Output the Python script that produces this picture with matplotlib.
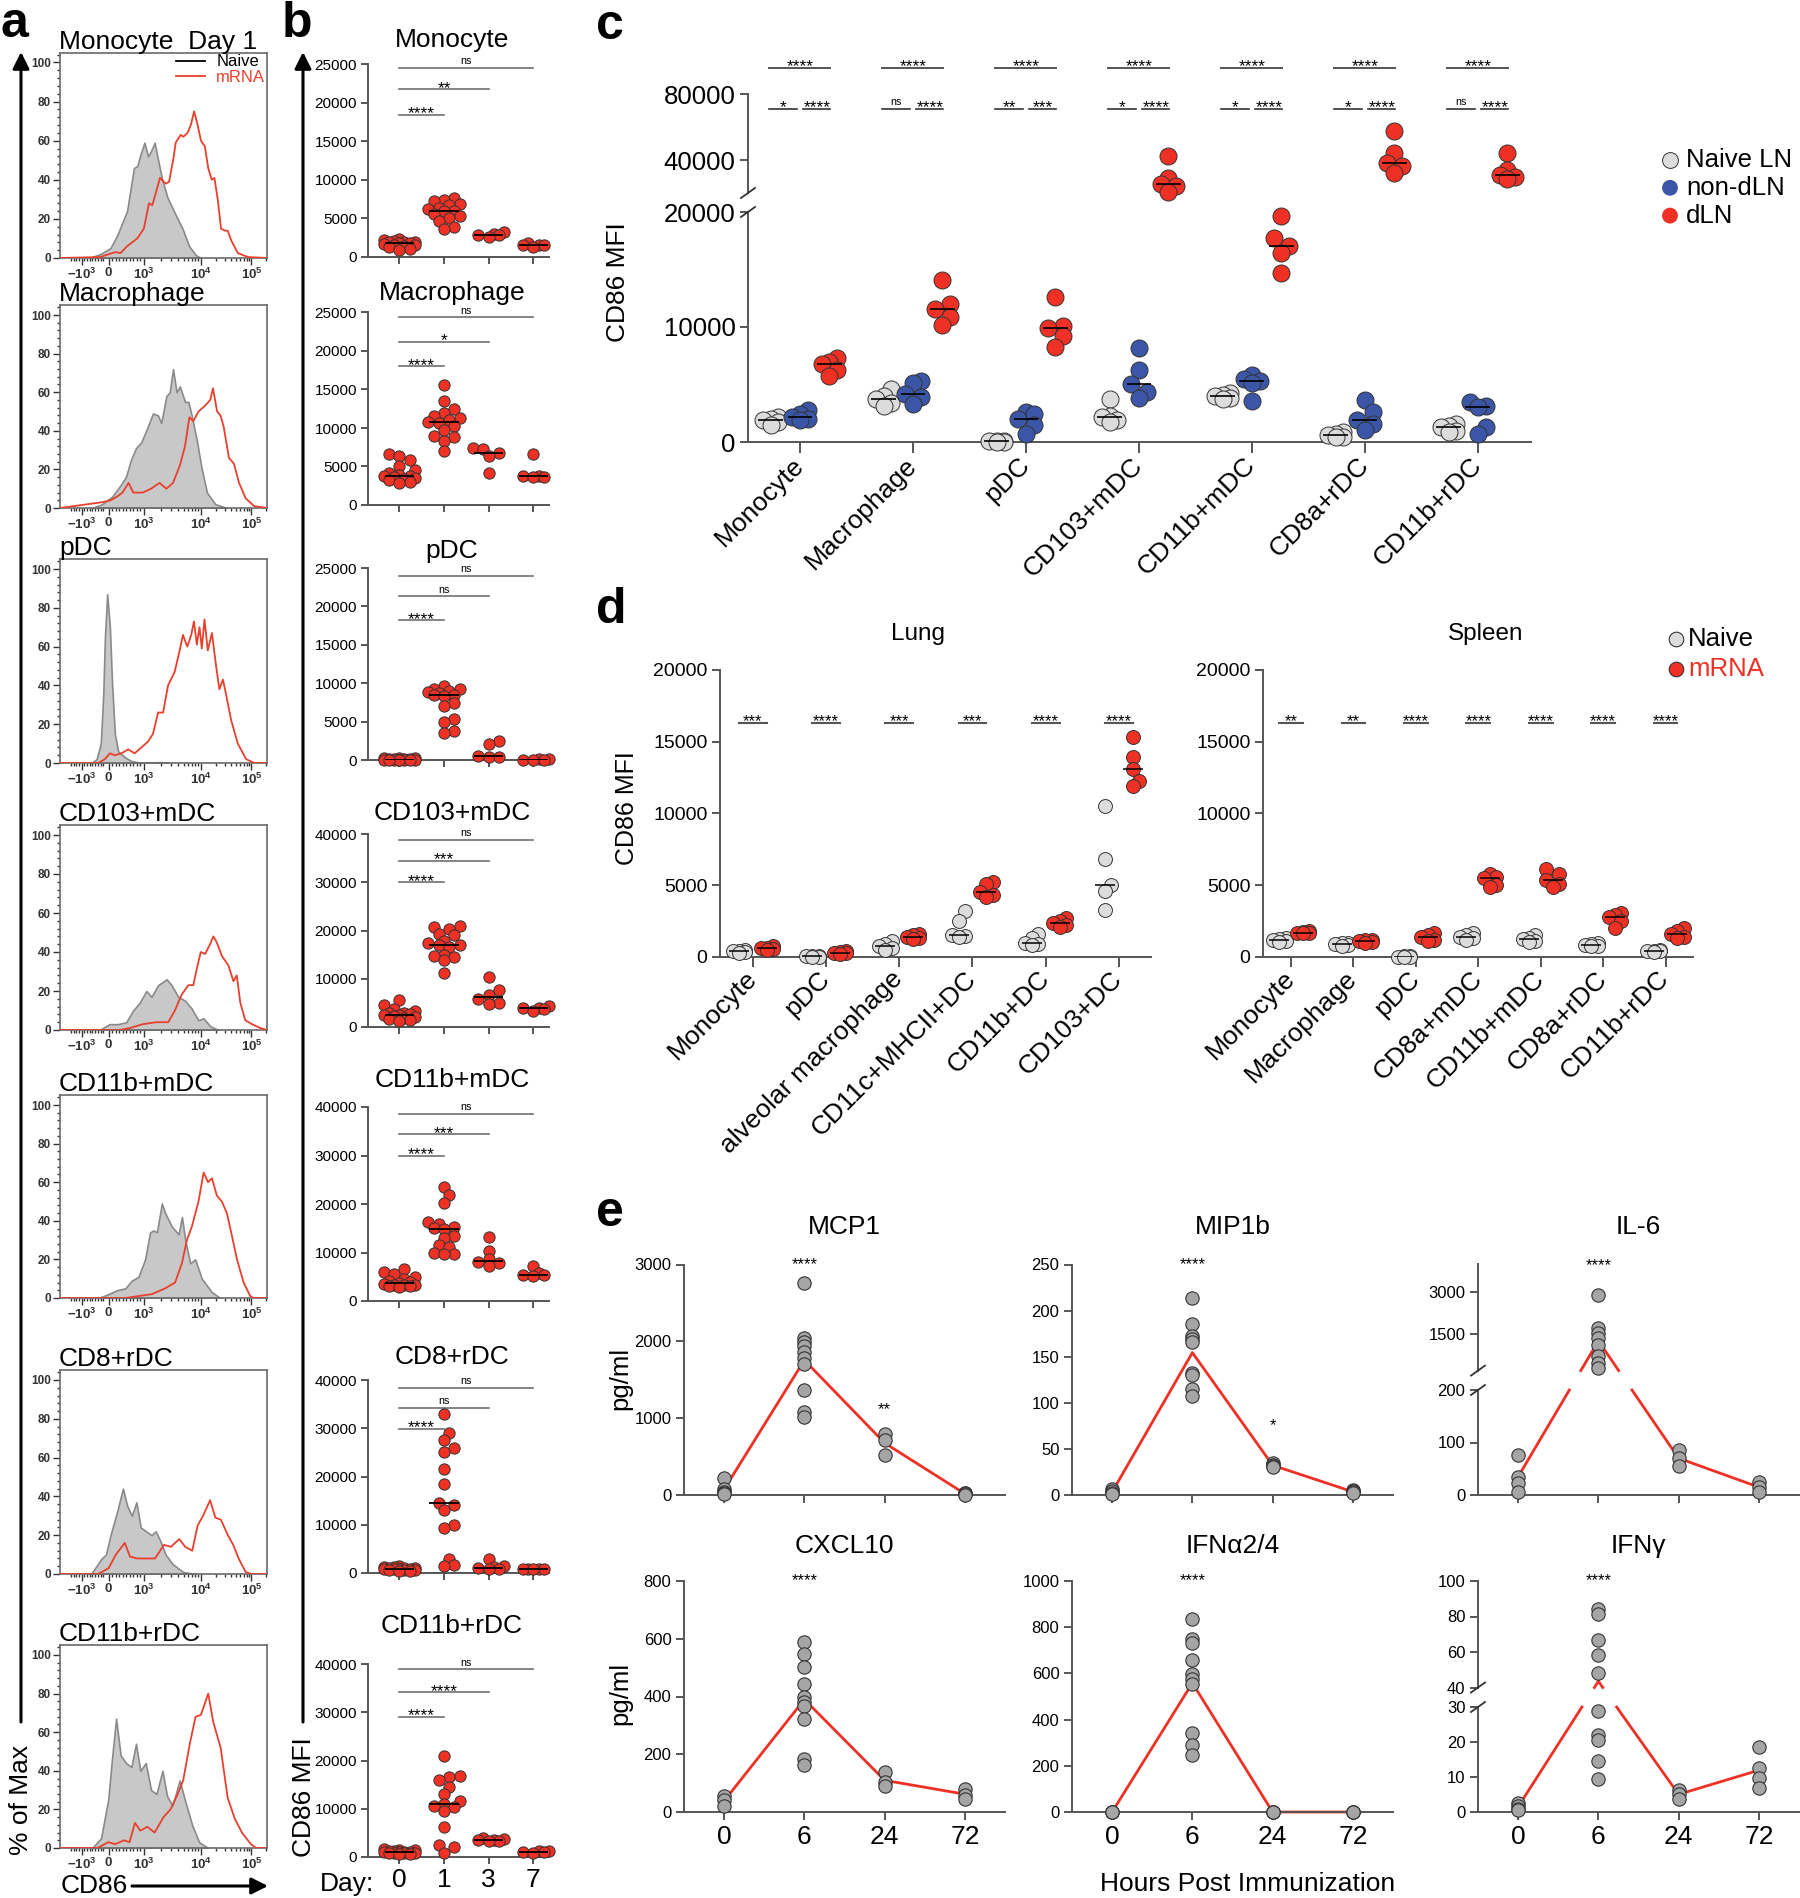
import numpy as np
import matplotlib
matplotlib.use('Agg')
import matplotlib.pyplot as plt
from matplotlib.ticker import AutoMinorLocator
from matplotlib.lines import Line2D

plt.rcParams['font.family'] = ['Liberation Sans', 'DejaVu Sans']
plt.rcParams['mathtext.fontset'] = 'custom'
plt.rcParams['mathtext.rm'] = 'Liberation Sans'
plt.rcParams['mathtext.it'] = 'Liberation Sans'
plt.rcParams['mathtext.bf'] = 'Liberation Sans:bold'

RED = '#EE3124'
BLUE = '#3B56A6'
NAIVE_GRAY = '#DCDCDC'
E_GRAY = '#A5A5A5'
EDGE = '#333333'
AXC = '#555555'

# ---------------- panel a: CD86 histograms (x = display channel 0-100, y = % of max)
hist_titles = ['Monocyte  Day 1', 'Macrophage', 'pDC', 'CD103+mDC', 'CD11b+mDC', 'CD8+rDC', 'CD11b+rDC']
hist_ticks = [10.5, 23.5, 40.5, 68, 92.5]
hist_ticklabels = [r'$\mathbf{-10^3}$', r'$\mathbf{0}$', r'$\mathbf{10^3}$', r'$\mathbf{10^4}$', r'$\mathbf{10^5}$']

mono_naive_x = [14, 19.5, 24.3, 27.6, 32.4, 35.7, 37.3, 38.9, 40.8, 42.5, 44.1, 45.7, 47.8, 49.4, 51.9, 55.9, 59.2, 62.4, 65.6, 68.1]
mono_naive_y = [0, 2, 5, 11.5, 24, 46, 47, 53, 59, 52, 55, 59, 48, 40, 31, 22, 15, 6, 1.5, 0]
mono_mrna_x = [0, 19.4, 26.7, 29.2, 32.4, 37.3, 40.5, 43, 44.6, 46.2, 48.3, 51.1, 52.7, 54.8, 55.9, 58.3, 59.6, 61.6, 63.2, 64.8,
               66.5, 68.1, 70, 71.6, 73.3, 74.6, 76.2, 77.8, 79.7, 81, 82.7, 85.9, 90.8, 100]
mono_mrna_y = [0, 0.5, 3, 2.5, 6, 10, 15, 28, 27, 33, 41, 38, 39, 51, 59, 63, 62, 64, 68, 75,
               68, 60, 57, 46, 40, 41, 30, 15, 14, 14, 9, 2.5, 0.5, 0]

macro_naive_x = [15.5, 20.4, 25.3, 29.4, 31.8, 34.3, 36.7, 39.2, 41.6, 44.9, 47.3, 48.9, 51.4, 53, 54.6, 56.3, 57.9, 60.4,
                 62, 63.6, 66.1, 68.5, 71, 75, 80.8]
macro_naive_y = [0, 2, 6, 12, 16, 25, 31, 34, 40, 49, 48, 44, 58, 60, 72, 60, 63, 55, 55, 48, 35, 20, 8, 2, 0]
macro_mrna_x = [0, 20.4, 24.5, 27.7, 30.2, 33.1, 35.4, 40, 44, 48.1, 51.4, 54.6, 57.9, 60.4, 62.5, 64.4, 66.9, 70.1, 72.6,
                73.9, 75.9, 77.5, 79.1, 81.6, 84, 86.5, 89.7, 93.8, 100]
macro_mrna_y = [0, 3, 4, 6, 8, 13, 8, 8, 10, 13, 10, 13, 22, 32, 47, 45, 50, 53, 56, 62, 50, 48, 42, 26, 23, 13, 5, 1, 0]

pdc_naive_x = [15.2, 17.7, 19.7, 20.9, 21.7, 22.8, 24.1, 25.2, 26.5, 28.1, 31.3, 34.5, 39.3, 49, 52.2]
pdc_naive_y = [0, 2, 10, 35, 65, 87, 70, 40, 15, 6, 3, 1, 0, 0.5, 0]
pdc_mrna_x = [0, 18.5, 21.7, 24.1, 26.5, 29.7, 32.9, 36.1, 39.3, 42.5, 44.9, 47.4, 49.8, 52.2, 55.4, 57.8, 59.4, 61.5,
              63.4, 64.7, 66.1, 67.4, 68.5, 69.8, 71.4, 73.4, 75.4, 77, 78.7, 80.3, 82.7, 85.9, 89.9, 93.9, 100]
pdc_mrna_y = [0, 0, 2, 5, 4, 5, 7, 5, 8, 11, 15, 26, 26, 40, 47, 58, 66, 60, 66, 73, 61, 70, 59, 74, 58, 67, 50, 38,
              43, 35, 22, 10, 2, 0, 0]

cd103_naive_x = [19.1, 23.9, 28, 32, 35.3, 38.5, 41.7, 44.2, 47.4, 51.5, 53.9, 57.1, 60.4, 63.6, 66.8, 69.3, 72.5, 76.5]
cd103_naive_y = [0, 3, 3, 4, 10, 14, 20, 17, 23, 26, 23, 17, 15, 11, 5, 6, 2, 0]
cd103_mrna_x = [0, 28.8, 33.7, 40.1, 46.6, 52.3, 55.5, 58.7, 62, 64.4, 66, 68, 70.1, 72.5, 74.1, 75.7, 78.2, 81.4, 83.8,
                85.4, 87.1, 89.5, 92.7, 96.8, 100]
cd103_mrna_y = [0, 0, 1, 3, 4, 4, 10, 18, 23, 23, 31, 40, 39, 44, 48, 45, 38, 33, 25, 28, 14, 5, 3, 1, 0]

cd11bm_naive_x = [18.5, 23.4, 27.4, 31.5, 34.7, 37.9, 41.1, 43.5, 45.2, 46.8, 49.2, 50.8, 54, 57.3, 58.9, 60.5, 62.9,
                  65.3, 68.5, 73.4, 77.4]
cd11bm_naive_y = [0, 2, 4, 5, 9, 11, 20, 34, 35, 34, 49, 44, 37, 33, 42, 30, 18, 20, 10, 3, 0]
cd11bm_mrna_x = [0, 31.5, 37.9, 44.4, 50.8, 55.6, 58.9, 61.3, 63.7, 66.9, 69.4, 71.5, 73.4, 75.8, 78.2, 80.6, 83.1,
                 85.5, 88.7, 91.9, 93.5, 100]
cd11bm_mrna_y = [0, 0, 1, 2, 5, 8, 18, 30, 37, 50, 65, 60, 62, 53, 50, 44, 32, 20, 8, 1, 0, 0]

cd8_naive_x = [15, 20.1, 22.2, 24.4, 27.8, 30.4, 32.5, 34.7, 36.9, 39, 41.6, 44.2, 46.2, 48.5, 51, 54.5, 59.6, 65.6]
cd8_naive_y = [0, 8, 10, 20, 33, 44, 35, 30, 37, 24, 22, 20, 22, 17, 10, 5, 1, 0]
cd8_mrna_x = [0, 18.4, 23.5, 27, 31.3, 33.8, 37.3, 40.7, 45.9, 50.2, 53.6, 57.6, 60.5, 63.9, 66.5, 69.1, 72.5, 75.1,
              77.7, 81.1, 83.7, 86.3, 89.7, 92.5, 100]
cd8_mrna_y = [0, 0, 3, 10, 16, 9, 8, 8, 8, 15, 14, 18, 14, 12, 25, 30, 38, 29, 28, 20, 15, 8, 1, 0, 0]

cd11br_naive_x = [15.5, 19.8, 23.3, 25, 27.1, 29.3, 31.9, 34.5, 36.7, 38.8, 41.4, 44, 46.6, 49.5, 51.7, 54.3, 57.8,
                  60.3, 63.8, 67.2, 71.6]
cd11br_naive_y = [0, 5, 25, 45, 67, 48, 44, 42, 54, 40, 44, 30, 28, 40, 27, 22, 35, 25, 12, 3, 0]
cd11br_mrna_x = [0, 18.1, 23.3, 26.7, 31, 33.6, 36.2, 38.8, 42.2, 45.7, 50, 53.4, 56.9, 59.5, 62.9, 65.5, 68.1, 71.6,
                 74.1, 77.6, 81, 84.5, 87.9, 92.2, 94.8, 100]
cd11br_mrna_y = [0, 0, 3, 2, 4, 3, 13, 9, 11, 8, 16, 20, 28, 35, 55, 68, 69, 80, 65, 52, 26, 15, 8, 2, 0, 0]

# ---------------- panel b: CD86 MFI over days (mRNA)
b_titles = ['Monocyte', 'Macrophage', 'pDC', 'CD103+mDC', 'CD11b+mDC', 'CD8+rDC', 'CD11b+rDC']
b_days = ['0', '1', '3', '7']
b_mono = [[2300, 2200, 2100, 2000, 1900, 1900, 1800, 1800, 1700, 1600, 1500, 1400, 1300, 1100, 900],
          [7600, 7400, 7200, 6900, 6700, 6400, 6200, 6000, 5900, 5600, 5300, 5100, 4600, 3900, 3600],
          [3200, 3000, 2900, 2800, 2600],
          [1800, 1600, 1500, 1500, 1300]]
b_macro = [[6600, 6300, 5900, 5100, 4500, 4200, 3900, 3800, 3800, 3700, 3500, 3400, 3200, 3000, 2900],
           [15600, 13500, 12500, 12000, 11500, 11300, 11000, 10800, 10600, 10300, 9700, 9000, 8800, 8300, 7000],
           [7400, 7300, 6800, 6400, 4200],
           [6600, 3800, 3800, 3700, 3700]]
b_pdc = [[300, 250, 200, 150, 100, 100, 80, 50, 50, 30, 20, 10, 0, 0, 0],
         [9600, 9300, 9200, 9000, 8800, 8700, 8500, 8400, 8300, 7400, 7000, 5300, 5000, 3800, 3500],
         [2500, 2100, 500, 400, 400],
         [100, 80, 50, 30, 20]]
b_cd103 = [[5500, 4500, 3800, 3400, 3000, 2800, 2600, 2500, 2400, 2200, 2000, 1800, 1600, 1400, 1200],
           [21000, 20800, 20400, 19200, 19000, 17800, 17500, 17000, 16900, 16500, 15000, 14800, 14500, 13800, 11100],
           [10400, 7600, 6700, 5800, 5000, 4800],
           [4300, 4000, 3900, 3800, 3300]]
b_cd11bm = [[6500, 6000, 5500, 5000, 4500, 4200, 4000, 3700, 3500, 3400, 3300, 3200, 3100, 3000, 2800],
            [23500, 21800, 20200, 16200, 15800, 15300, 15000, 14900, 13500, 13000, 11500, 11200, 10000, 9700, 9600],
            [13200, 10400, 8600, 8100, 7900, 7200],
            [7300, 5800, 5400, 5300, 5200]]
b_cd8 = [[1400, 1300, 1200, 1100, 1000, 1000, 900, 900, 800, 800, 700, 700, 600, 500, 400],
         [33000, 29000, 27500, 26000, 25000, 21500, 18500, 14500, 14000, 13000, 10000, 9300, 3000, 1600, 1500],
         [2800, 1500, 1200, 1000, 900, 800],
         [900, 850, 800, 800, 750]]
b_cd11br = [[1700, 1500, 1400, 1300, 1200, 1100, 1100, 1000, 1000, 900, 900, 800, 800, 700, 600],
            [21000, 16800, 16500, 15900, 14600, 13000, 11600, 11000, 10500, 10300, 9500, 6300, 2500, 2000, 900],
            [3900, 3800, 3600, 3500, 3400, 3300],
            [1300, 1200, 1100, 1000, 900]]
b_ymax = [25000, 25000, 25000, 40000, 40000, 40000, 40000]
b_sig_labels = [['****', '**', 'ns'], ['****', '*', 'ns'], ['****', 'ns', 'ns'], ['****', '***', 'ns'],
                ['****', '***', 'ns'], ['****', 'ns', 'ns'], ['****', '****', 'ns']]
b_sig_levels = [[18400, 21700, 24500], [18000, 21200, 24400], [18200, 21350, 24000], [30000, 34500, 38800],
                [30000, 34400, 38600], [29900, 34300, 38400], [29000, 34100, 38900]]

# ---------------- panel c: lymph nodes
c_cells = ['Monocyte', 'Macrophage', 'pDC', 'CD103+mDC', 'CD11b+mDC', 'CD8a+rDC', 'CD11b+rDC']
c_naive = [[2200, 2000, 1870, 1700, 1500], [4600, 4000, 3740, 3400, 3100], [120, 80, 50, 20, 0],
           [3700, 2300, 2150, 1900, 1700], [4300, 4100, 4020, 3800, 3700], [900, 700, 570, 450, 400],
           [1600, 1400, 1290, 1000, 900]]
c_nondln = [[2800, 2400, 2200, 2000, 1900], [5300, 5170, 4170, 3880, 3300], [2590, 2440, 2010, 1440, 720],
            [8190, 6240, 5030, 4310, 3820], [5800, 5500, 5320, 5100, 3600], [3680, 2590, 1870, 1580, 1060],
            [3450, 3160, 3020, 1290, 720]]
c_dln = [[7300, 7000, 6750, 6300, 5700], [14080, 11980, 11580, 10830, 10200], [12640, 10060, 9910, 9200, 8250],
         [42400, 29000, 25400, 24000, 20600], [19680, 17760, 17010, 16440, 14710],
         [57800, 44000, 38000, 36400, 32400], [44400, 34000, 31000, 30000, 28400]]
c_sig_all = ['****'] * 7
c_sig_left = ['*', 'ns', '**', '*', '*', '*', 'ns']
c_sig_right = ['****', '****', '***', '****', '****', '****', '****']
c_legend = ['Naive LN', 'non-dLN', 'dLN']

# ---------------- panel d: lung and spleen
lung_cells = ['Monocyte', 'pDC', 'alveolar macrophage', 'CD11c+MHCII+DC', 'CD11b+DC', 'CD103+DC']
lung_naive = [[500, 450, 400, 350, 300], [100, 80, 50, 30, 0], [1100, 900, 800, 600, 500],
              [3200, 2500, 1500, 1450, 1400], [1600, 1350, 1000, 900, 850], [10500, 6800, 5000, 4600, 3300]]
lung_mrna = [[750, 650, 600, 550, 500], [400, 350, 300, 250, 200], [1600, 1500, 1400, 1300, 1250],
             [5200, 5100, 4500, 4300, 4200], [2700, 2500, 2350, 2200, 2100], [15350, 13950, 13100, 12250, 11900]]
lung_sig = ['***', '****', '***', '***', '****', '****']
spleen_cells = ['Monocyte', 'Macrophage', 'pDC', 'CD8a+mDC', 'CD11b+mDC', 'CD8a+rDC', 'CD11b+rDC']
spleen_naive = [[1300, 1250, 1200, 1100, 1050], [1000, 950, 900, 850, 800], [80, 50, 30, 20, 0],
                [1650, 1500, 1400, 1300, 1200], [1500, 1350, 1250, 1100, 1050], [1000, 900, 850, 800, 750],
                [500, 450, 400, 400, 350]]
spleen_mrna = [[1800, 1750, 1700, 1700, 1650], [1200, 1150, 1100, 1050, 1000], [1700, 1550, 1400, 1200, 1100],
               [5800, 5600, 5500, 5000, 4900], [6100, 5750, 5400, 5100, 4850], [3100, 2900, 2800, 2500, 2050],
               [2000, 1800, 1600, 1400, 1300]]
spleen_sig = ['**', '**', '****', '****', '****', '****', '****']

# ---------------- panel e: serum cytokines (pg/ml) at 0, 6, 24, 72 h
e_hours = ['0', '6', '24', '72']
mcp1 = [[220, 80, 40, 20, 10], [2760, 2040, 1990, 1940, 1860, 1780, 1710, 1370, 1080, 1020], [800, 710, 520],
        [30, 20, 10, 5]]
mip1b = [[6, 4, 2, 1], [214, 185, 172, 169, 166, 132, 130, 115, 107], [35, 33, 31, 30], [5, 4, 3, 2]]
il6 = [[77, 35, 22, 5], [2900, 1700, 1550, 1350, 1100, 700, 450, 300], [85, 70, 55], [25, 15, 5]]
cxcl10 = [[55, 40, 20], [588, 548, 501, 445, 397, 382, 366, 323, 185, 164], [137, 103, 89], [80, 60, 45]]
ifna = [[0, 0, 0], [837, 751, 732, 658, 596, 577, 553, 344, 290, 245], [0, 0, 0], [0, 0, 0]]
ifng = [[2.6, 1.8, 1.0, 0.5], [84.5, 81.5, 67, 58.5, 48, 29, 22, 20.5, 14.5, 9.5], [6.3, 5.2, 3.6],
        [18.6, 12.6, 9.8, 6.8]]

W, H = 1800, 1898
fig = plt.figure(figsize=(W / 100, H / 100), dpi=100)


def add_ax(left, top, right, bottom):
    ax = fig.add_axes([left / W, 1 - bottom / H, (right - left) / W, (bottom - top) / H])
    ax.set_facecolor('none')
    return ax


def style(ax, fs, left_only=False):
    for s in ['top', 'right']:
        ax.spines[s].set_visible(False)
    for s in ['left', 'bottom']:
        ax.spines[s].set_linewidth(1.4)
        ax.spines[s].set_color(AXC)
    ax.tick_params(width=1.4, length=6, color=AXC, labelsize=fs, pad=3)
    if left_only:
        ax.spines['bottom'].set_visible(False)
        ax.tick_params(axis='x', which='both', bottom=False, labelbottom=False)


def px_x(ax):
    x0, x1 = ax.get_xlim()
    return ax.bbox.width / (x1 - x0)


def swarm(vals, ypix, diam, cap):
    cands = [0.0]
    stepw = diam * 0.45
    for k in range(1, int(cap / stepw) + 1):
        cands += [k * stepw, -k * stepw]
    offs = [0.0] * len(vals)
    placed = []
    for i in np.argsort(vals, kind='stable'):
        y = ypix(vals[i])
        best, bestd = 0.0, -1.0
        for c in cands:
            d = min([np.hypot(c - px, y - py) for px, py in placed], default=1e9)
            if d >= diam * 0.72:
                best = c
                break
            if d > bestd:
                bestd, best = d, c
        offs[i] = best
        placed.append((best, y))
    return np.array(offs)


def sig_text(ax, x, y, label, fs, **kw):
    if label == 'ns':
        ax.annotate(label, (x, y), xytext=(0, 2.5), textcoords='offset points', ha='center', va='baseline',
                    fontsize=fs * 0.62, annotation_clip=False, **kw)
    else:
        ax.annotate(label, (x, y), xytext=(0, -2.5), textcoords='offset points', ha='center', va='baseline',
                    fontsize=fs, annotation_clip=False, **kw)


def set_ticks(ax, ticks):
    ax.set_yticks(ticks, [str(t) for t in ticks])


# ================= panel a
hist_curves = [((mono_naive_x, mono_naive_y), (mono_mrna_x, mono_mrna_y)),
               ((macro_naive_x, macro_naive_y), (macro_mrna_x, macro_mrna_y)),
               ((pdc_naive_x, pdc_naive_y), (pdc_mrna_x, pdc_mrna_y)),
               ((cd103_naive_x, cd103_naive_y), (cd103_mrna_x, cd103_mrna_y)),
               ((cd11bm_naive_x, cd11bm_naive_y), (cd11bm_mrna_x, cd11bm_mrna_y)),
               ((cd8_naive_x, cd8_naive_y), (cd8_mrna_x, cd8_mrna_y)),
               ((cd11br_naive_x, cd11br_naive_y), (cd11br_mrna_x, cd11br_mrna_y))]
hist_rows = [(62.5, 258), (315, 508), (569, 763), (835, 1030), (1105, 1298), (1380, 1574), (1655, 1848)]
hist_minor = ([10.5 - 1.3 * m for m in range(1, 5)] + [10.5 + 1.3 * m for m in range(1, 9)]
              + [23.5 + 1.7 * m for m in range(1, 10)] + [40.5 + 27.5 * np.log10(m) for m in range(2, 10)]
              + [68 + 24.5 * np.log10(m) for m in range(2, 10)] + [99.5])
hist_title_pos = []
for r, (y100, y0) in enumerate(hist_rows):
    top = y100 - 0.05 * (y0 - y100)
    ax = add_ax(60, top, 267, y0)
    ax.set_xlim(0, 100)
    ax.set_ylim(0, 105)
    (nx, ny), (mx, my) = hist_curves[r]
    ax.fill_between(nx, ny, color='#C8C8C8', edgecolor='#8A8A8A', lw=1.2, zorder=2)
    ax.plot(mx, my, color='#E8402D', lw=1.3, zorder=3)
    for s in ax.spines.values():
        s.set_color('#6A6A6A')
        s.set_linewidth(1.2)
    ax.set_yticks([0, 20, 40, 60, 80, 100])
    ax.yaxis.set_minor_locator(AutoMinorLocator(5))
    ax.set_xticks(hist_ticks, hist_ticklabels)
    ax.set_xticks(hist_minor, minor=True)
    ax.tick_params(which='both', direction='out', color='#333', width=1)
    ax.tick_params(which='major', length=5, labelsize=8.5, labelcolor='#333', pad=1.5)
    ax.tick_params(axis='x', which='major', labelsize=9.5, pad=1)
    ax.tick_params(which='minor', length=2.5)
    for lab in ax.get_yticklabels():
        lab.set_fontweight('bold')
    if r == 0:
        hnd = [Line2D([], [], color='k', lw=1.3), Line2D([], [], color='#E8402D', lw=1.3)]
        ax.legend(hnd, ['Naive', 'mRNA'], labelcolor=['k', '#E8402D'], frameon=False, fontsize=12,
                  loc='upper right', borderaxespad=0.0, handlelength=1.7, handletextpad=0.7, labelspacing=0.05,
                  borderpad=0.1)
    hist_title_pos.append(top - 4)

# ================= panel b
b_data = [b_mono, b_macro, b_pdc, b_cd103, b_cd11bm, b_cd8, b_cd11br]
b_rows = [(64, 257), (312.5, 505), (568, 760), (834, 1027), (1107, 1301), (1380, 1573), (1664, 1857)]
b_title_y = [40, 293, 551, 813, 1080, 1357, 1626]
for r in range(7):
    top, bot = b_rows[r]
    ax = add_ax(368, top, 549, bot)
    ax.set_xlim(-0.7, 3.35)
    ax.set_ylim(0, b_ymax[r])
    style(ax, 11)
    ax.tick_params(length=5)
    stepv = 5000 if b_ymax[r] == 25000 else 10000
    set_ticks(ax, list(range(0, b_ymax[r] + 1, stepv)))
    ax.set_xticks(range(4))
    if r == 6:
        ax.set_xticklabels(b_days, fontsize=19)
    else:
        ax.set_xticklabels([])
    sx = px_x(ax)
    sy = ax.bbox.height / b_ymax[r]
    for i, vals in enumerate(b_data[r]):
        offs = swarm(vals, lambda v: v * sy, 11.5, 19)
        ax.scatter(i + offs / sx, vals, s=66, c=RED, edgecolors=EDGE, linewidths=0.7, zorder=3, clip_on=False)
        ax.hlines(np.median(vals), i - 0.33, i + 0.33, color='k', lw=1.3, zorder=4)
    for j, (lab, lev) in enumerate(zip(b_sig_labels[r], b_sig_levels[r])):
        ax.plot([0, j + 1], [lev, lev], color='#707070', lw=1.2, clip_on=False)
        sig_text(ax, (j + 1) / 2, lev, lab, 12.5)

# ================= panel c
axc_lo = add_ax(748, 212, 1531, 442)
axc_hi = add_ax(748, 94, 1531, 193)
for ax in (axc_lo, axc_hi):
    ax.set_xlim(-0.46, 6.47)
axc_lo.set_ylim(0, 20000)
axc_hi.set_ylim(20000, 80000)
style(axc_lo, 18.5)
style(axc_hi, 18.5, left_only=True)
set_ticks(axc_lo, [0, 10000, 20000])
set_ticks(axc_hi, [40000, 80000])
axc_lo.set_xticks(range(7))
axc_lo.set_xticklabels(c_cells, rotation=45, ha='right', va='center', rotation_mode='anchor', fontsize=19)
axc_lo.tick_params(axis='x', pad=6, length=8)


def c_axis(v):
    return axc_hi if v > 20000 else axc_lo


c_groups = [(c_naive, NAIVE_GRAY, -0.26), (c_nondln, BLUE, 0.0), (c_dln, RED, 0.26)]
sxc = px_x(axc_lo)
for data, col, dx in c_groups:
    for i, vals in enumerate(data):
        offs = swarm(vals, lambda v: c_axis(v).transData.transform((0, v))[1], 17, 9) / sxc
        for v, o in zip(vals, offs):
            c_axis(v).scatter(i + dx + o, v, s=150, c=col, edgecolors=EDGE, linewidths=0.7, zorder=3,
                              clip_on=False)
        med = np.median(vals)
        c_axis(med).hlines(med, i + dx - 0.11, i + dx + 0.11, color='k', lw=1.2, zorder=4)
for i in range(7):
    axc_hi.plot([i - 0.27, i + 0.27], [95760, 95760], color='#555', lw=1.4, clip_on=False)
    sig_text(axc_hi, i, 95760, c_sig_all[i], 12.5)
    axc_hi.plot([i - 0.27, i - 0.03], [71200, 71200], color='#333', lw=1.2, clip_on=False)
    axc_hi.plot([i + 0.03, i + 0.27], [71200, 71200], color='#333', lw=1.2, clip_on=False)
    sig_text(axc_hi, i - 0.15, 71200, c_sig_left[i], 12.5)
    sig_text(axc_hi, i + 0.15, 71200, c_sig_right[i], 12.5)


# ================= panel d
def d_panel(left, right, cells, naive, mrna, sig):
    ax = add_ax(left, 670, right, 957)
    n = len(cells)
    ax.set_xlim(-0.45, n - 1 + 0.44)
    ax.set_ylim(0, 20000)
    style(ax, 14)
    set_ticks(ax, [0, 5000, 10000, 15000, 20000])
    ax.set_xticks(range(n))
    ax.set_xticklabels(cells, rotation=45, ha='right', va='center', rotation_mode='anchor', fontsize=19)
    ax.tick_params(axis='x', pad=6, length=7)
    sx = px_x(ax)
    sy = ax.bbox.height / 20000
    hw = 10 / sx
    for data, col, dx in ((naive, NAIVE_GRAY, -0.19), (mrna, RED, 0.19)):
        for i, vals in enumerate(data):
            offs = swarm(vals, lambda v: v * sy, 14, 7) / sx
            ax.scatter(i + dx + offs, vals, s=100, c=col, edgecolors=EDGE, linewidths=0.7, zorder=3,
                       clip_on=False)
            ax.hlines(np.median(vals), i + dx - hw, i + dx + hw, color='k', lw=1.1, zorder=4)
    for i in range(n):
        ax.plot([i - 0.19, i + 0.19], [16300, 16300], color='#555', lw=1.5)
        sig_text(ax, i, 16300, sig[i], 12)
    return ax


ax_lung = d_panel(720, 1151, lung_cells, lung_naive, lung_mrna, lung_sig)
ax_spleen = d_panel(1263, 1693, spleen_cells, spleen_naive, spleen_mrna, spleen_sig)

# ================= panel e
e_cols = [684, 1072, 1478]
e_rows = [(1264.5, 1495), (1581, 1812)]
EW = 321


def e_common(ax, row, xlabels=True):
    ax.set_xlim(-0.5, 3.5)
    style(ax, 12)
    ax.set_xticks(range(4))
    if row == 1 and xlabels:
        ax.set_xticklabels(e_hours, fontsize=19)
    else:
        ax.set_xticklabels([])


def e_points(axes_for, data):
    for i, vals in enumerate(data):
        for v in vals:
            axes_for(v).scatter(i, v, s=92, c=E_GRAY, edgecolors=EDGE, linewidths=0.8, zorder=3, clip_on=False)


def e_simple(col, row, data, ymax, stepv, sigs):
    left = e_cols[col]
    top, bot = e_rows[row]
    ax = add_ax(left, top, left + EW, bot)
    e_common(ax, row)
    ax.set_ylim(0, ymax)
    set_ticks(ax, list(range(0, ymax + 1, stepv)))
    e_points(lambda v: ax, data)
    ax.plot(range(4), [np.mean(v) for v in data], color=RED, lw=2, zorder=2, clip_on=False)
    for xi, lab, yv in sigs:
        ax.text(xi, yv, lab, ha='center', va='center', fontsize=12)
    return ax


def e_broken(col, row, data, split, lo_lim, hi_lim, lo_ticks, hi_ticks, split_px, sigs):
    left = e_cols[col]
    top, bot = e_rows[row]
    lo_top, hi_bot = split_px
    ax_lo = add_ax(left, lo_top, left + EW, bot)
    ax_hi = add_ax(left, top, left + EW, hi_bot)
    e_common(ax_lo, row)
    ax_hi.set_xlim(-0.5, 3.5)
    style(ax_hi, 12, left_only=True)
    ax_lo.set_ylim(*lo_lim)
    ax_hi.set_ylim(*hi_lim)
    set_ticks(ax_lo, lo_ticks)
    set_ticks(ax_hi, hi_ticks)
    pick = lambda v: ax_lo if v <= split else ax_hi
    e_points(pick, data)
    means = [np.mean(v) for v in data]
    pts = [pick(m).transData.transform((i, m)) for i, m in enumerate(means)]
    for (x0, y0), (x1, y1) in zip(pts[:-1], pts[1:]):
        for a in (ax_lo, ax_hi):
            lo, hi = a.bbox.y0, a.bbox.y1
            if abs(y1 - y0) < 1e-9:
                if not (lo <= y0 <= hi):
                    continue
                t0, t1 = 0.0, 1.0
            else:
                ta, tb = (lo - y0) / (y1 - y0), (hi - y0) / (y1 - y0)
                t0, t1 = max(0.0, min(ta, tb)), min(1.0, max(ta, tb))
                if t0 >= t1:
                    continue
            seg = np.array([[x0 + t * (x1 - x0), y0 + t * (y1 - y0)] for t in (t0, t1)])
            d = a.transData.inverted().transform(seg)
            a.plot(d[:, 0], d[:, 1], color=RED, lw=2, zorder=2, clip_on=False)
    for xi, lab, yv in sigs:
        ax_hi.text(xi, yv, lab, ha='center', va='center', fontsize=12)
    return ax_lo, ax_hi


e_simple(0, 0, mcp1, 3000, 1000, [(1, '****', 3000), (2, '**', 1110)])
e_simple(1, 0, mip1b, 250, 50, [(1, '****', 250), (2, '*', 75)])
e_broken(2, 0, il6, 200, (0, 200), (195, 3985), [0, 100, 200], [1500, 3000], (1390, 1370.6),
         [(1, '****', 3950)])
e_simple(0, 1, cxcl10, 800, 200, [(1, '****', 800)])
e_simple(1, 1, ifna, 1000, 200, [(1, '****', 1000)])
e_broken(2, 1, ifng, 35, (0, 30), (40, 100), [0, 10, 20, 30], [40, 60, 80, 100], (1707, 1687.5),
         [(1, '****', 100)])

# ================= overlay: labels, arrows, legends
ov = fig.add_axes([0, 0, 1, 1], zorder=10)
ov.set_xlim(0, W)
ov.set_ylim(H, 0)
ov.axis('off')

for lab, x, y in (('a', 0, 37), ('b', 282, 37), ('c', 596, 39), ('d', 596, 623), ('e', 596, 1226)):
    ov.text(x, y, lab, fontsize=36, fontweight='bold', ha='left', va='baseline')

for t, yb in zip(hist_titles, hist_title_pos):
    ov.text(59, yb, t, fontsize=19, ha='left', va='baseline')
for t, yc in zip(b_titles, b_title_y):
    ov.text(452, yc, t, fontsize=19, ha='center', va='center')

arrow = dict(arrowstyle='-|>', color='k', lw=2.2, mutation_scale=25, shrinkA=0, shrinkB=0)
ov.annotate('', xy=(21, 52), xytext=(21, 1722), arrowprops=arrow)
ov.annotate('', xy=(303, 52), xytext=(303, 1722), arrowprops=arrow)
ov.annotate('', xy=(268, 1886), xytext=(132, 1886), arrowprops=arrow)
ov.text(21, 1800, '% of Max', rotation=90, fontsize=19, ha='center', va='center')
ov.text(61, 1886, 'CD86', fontsize=19, ha='left', va='center')
ov.text(304, 1797, 'CD86 MFI', rotation=90, fontsize=19, ha='center', va='center')
ov.text(320, 1884, 'Day:', fontsize=19, ha='left', va='center')

ov.text(618, 282, 'CD86 MFI', rotation=90, fontsize=19, ha='center', va='center')
for k, (lab, col) in enumerate(zip(c_legend, [NAIVE_GRAY, BLUE, RED])):
    yy = 160 + 27.8 * k
    ov.scatter(1670, yy, s=130, c=col, edgecolors=EDGE if k == 0 else 'none', linewidths=0.7)
    ov.text(1686, yy, lab, fontsize=18.5, ha='left', va='center')

# break marks
for x, y in ((748, 212), (748, 193), (1478, 1390), (1478, 1370.6), (1478, 1707), (1478, 1687.5)):
    ov.plot([x - 7, x + 7], [y + 5, y - 5], color='#333', lw=1.3)

ov.text(918, 634, 'Lung', fontsize=17.5, ha='center', va='center')
ov.text(1486, 634, 'Spleen', fontsize=17.5, ha='center', va='center')
ov.text(627, 808, 'CD86 MFI', rotation=90, fontsize=18, ha='center', va='center')
ov.scatter(1676, 638.5, s=110, c=NAIVE_GRAY, edgecolors=EDGE, linewidths=0.8)
ov.text(1688, 638.5, 'Naive', fontsize=18.5, ha='left', va='center')
ov.scatter(1676, 669, s=110, c=RED, edgecolors=EDGE, linewidths=0.8)
ov.text(1688, 669, 'mRNA', fontsize=18.5, ha='left', va='center', color=RED)

e_titles = [['MCP1', 'MIP1b', 'IL-6'], ['CXCL10', 'IFN\u03b12/4', 'IFN\u03b3']]
for row, yt in ((0, 1227), (1, 1546)):
    for col in range(3):
        ov.text(e_cols[col] + EW / 2, yt, e_titles[row][col], fontsize=19, ha='center', va='center')
ov.text(620, 1378, 'pg/ml', rotation=90, fontsize=18.5, ha='center', va='center')
ov.text(620, 1693, 'pg/ml', rotation=90, fontsize=18.5, ha='center', va='center')
ov.text(1248, 1884, 'Hours Post Immunization', fontsize=19, ha='center', va='center')

fig.savefig('out.png', dpi=100)
